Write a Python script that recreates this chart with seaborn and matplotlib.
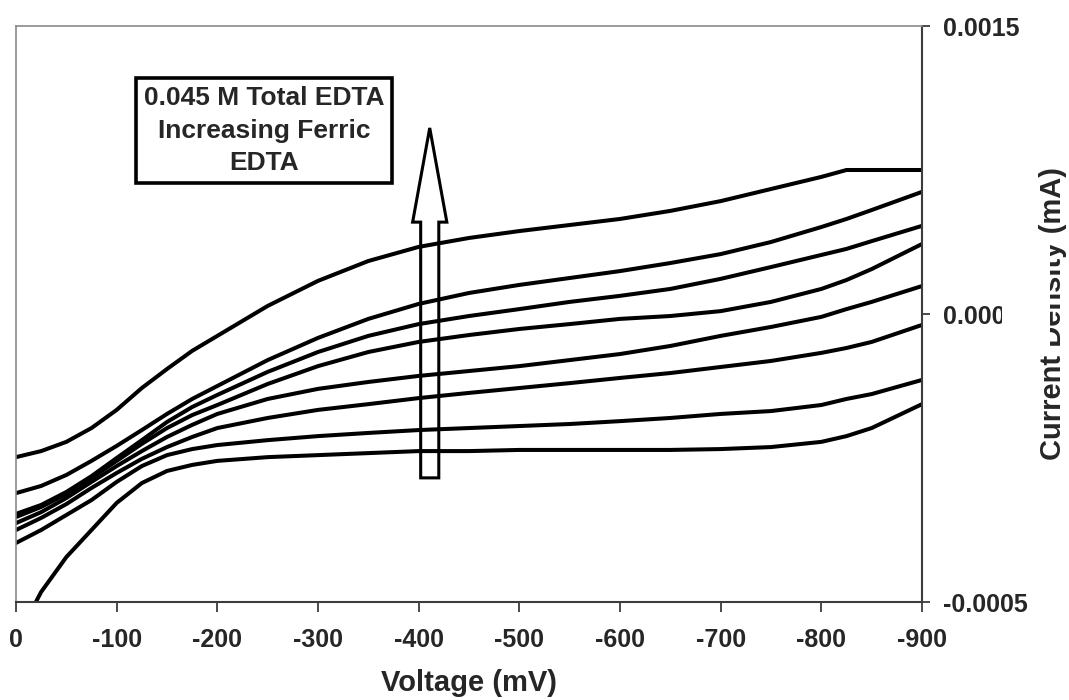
import matplotlib
matplotlib.use("Agg")
import matplotlib.pyplot as plt
from matplotlib.patches import FancyArrow, Rectangle
import pandas as pd
import seaborn as sns

# Electrode potential (mV)
voltage = [0, -25, -50, -75, -100, -125, -150, -175, -200, -250, -300, -350,
           -400, -450, -500, -550, -600, -650, -700, -750, -800, -825, -850, -900]

# Current density, in units of 1e-4 mA, lowest to highest ferric EDTA fraction
ferric_1 = [-6.32, -4.65, -3.44, -2.50, -1.56, -0.87, -0.45, -0.24, -0.10, 0.03, 0.10, 0.17,
            0.24, 0.24, 0.28, 0.28, 0.28, 0.28, 0.31, 0.38, 0.56, 0.76, 1.04, 1.87]
ferric_2 = [-2.95, -2.50, -1.98, -1.46, -0.83, -0.28, 0.10, 0.31, 0.45, 0.62, 0.76, 0.87,
            0.97, 1.04, 1.11, 1.18, 1.28, 1.39, 1.53, 1.63, 1.84, 2.05, 2.22, 2.71]
ferric_3 = [-2.50, -2.08, -1.60, -1.04, -0.52, -0.03, 0.38, 0.73, 1.04, 1.39, 1.67, 1.87,
            2.08, 2.26, 2.43, 2.60, 2.78, 2.95, 3.16, 3.37, 3.65, 3.82, 4.03, 4.62]
ferric_4 = [-2.26, -1.88, -1.39, -0.83, -0.28, 0.24, 0.73, 1.15, 1.53, 2.05, 2.40, 2.64,
            2.85, 3.02, 3.19, 3.40, 3.61, 3.89, 4.24, 4.55, 4.90, 5.17, 5.42, 5.97]
ferric_5 = [-2.05, -1.70, -1.25, -0.69, -0.10, 0.49, 1.04, 1.49, 1.84, 2.57, 3.19, 3.68,
            4.03, 4.27, 4.48, 4.65, 4.83, 4.93, 5.10, 5.42, 5.87, 6.18, 6.56, 7.43]
ferric_6 = [-1.94, -1.63, -1.18, -0.63, 0.00, 0.62, 1.25, 1.77, 2.19, 2.99, 3.68, 4.24,
            4.65, 4.93, 5.17, 5.42, 5.63, 5.87, 6.22, 6.63, 7.05, 7.26, 7.53, 8.06]
ferric_7 = [-1.22, -0.97, -0.59, -0.10, 0.42, 0.97, 1.53, 2.05, 2.50, 3.40, 4.17, 4.83,
            5.35, 5.73, 6.01, 6.25, 6.49, 6.77, 7.08, 7.50, 8.02, 8.30, 8.61, 9.24]
ferric_8 = [0.03, 0.24, 0.56, 1.04, 1.67, 2.43, 3.09, 3.72, 4.24, 5.28, 6.15, 6.84,
            7.33, 7.64, 7.88, 8.09, 8.30, 8.58, 8.92, 9.34, 9.76, 10.0, 10.0, 10.0]

series = {"1": ferric_1, "2": ferric_2, "3": ferric_3, "4": ferric_4,
          "5": ferric_5, "6": ferric_6, "7": ferric_7, "8": ferric_8}

y_ticks = [-0.0005, 0.0005, 0.0015]
y_tick_labels = ["-0.0005", "0.0005", "0.0015"]
x_ticks = [0, -100, -200, -300, -400, -500, -600, -700, -800, -900]
x_tick_labels = [str(v) for v in x_ticks]
note_text = "0.045 M Total EDTA\nIncreasing Ferric\nEDTA"

rows = []
for name, values in series.items():
    for v, c in zip(voltage, values):
        rows.append({"voltage": v, "current": c * 1e-4, "series": name})
df = pd.DataFrame(rows)

sns.set_theme(style="white")
plt.rcParams["font.family"] = ["Liberation Sans", "DejaVu Sans"]
plt.rcParams["font.weight"] = "bold"

W, H = 1069, 700
fig = plt.figure(figsize=(W / 100, H / 100), dpi=100)
ax = fig.add_axes([16 / W, (H - 602) / H, 906 / W, 576 / H])

sns.lineplot(data=df, x="voltage", y="current", hue="series",
             palette=["black"] * len(series), estimator=None, sort=False,
             legend=False, linewidth=2.9, ax=ax)
for line in ax.get_lines():
    line.set_solid_capstyle("round")
    line.set_solid_joinstyle("round")

ax.set_xlim(0, -900)
ax.set_ylim(-0.0005, 0.0015)

ax.set_xticks(x_ticks)
ax.set_xticklabels(x_tick_labels, fontsize=18, fontweight="bold")
ax.yaxis.tick_right()
ax.yaxis.set_label_position("right")
ax.set_yticks(y_ticks)
ax.set_yticklabels(y_tick_labels, fontsize=18, fontweight="bold")

dark = "#3c3c3c"
ax.tick_params(axis="x", direction="out", length=7, width=1.3, color=dark,
               pad=12, bottom=True)
ax.tick_params(axis="y", direction="out", length=6, width=1.3, color=dark,
               pad=9, right=True, left=False)

for side in ("left", "top"):
    ax.spines[side].set_color("#8a8a8a")
    ax.spines[side].set_linewidth(1.2)
for side in ("bottom", "right"):
    ax.spines[side].set_color(dark)
    ax.spines[side].set_linewidth(1.5)

ax.set_xlabel("Voltage (mV)", fontsize=21, fontweight="bold")
ax.xaxis.label.set_va("center")
ax.xaxis.set_label_coords(0.5, (602 - 683) / 576)
ax.set_ylabel("Current Density (mA)", fontsize=21, fontweight="bold", rotation=90)
ax.yaxis.label.set_va("center")
ax.yaxis.set_label_coords((1053 - 16) / 906, 0.5)

ax.text(0.274, 0.818, note_text, transform=ax.transAxes, ha="center", va="center",
        multialignment="center", fontsize=19, fontweight="bold", linespacing=1.45,
        bbox=dict(boxstyle="square,pad=0.3", facecolor="white", edgecolor="black",
                  linewidth=2.6), zorder=5)

ax.add_patch(FancyArrow(-411, -0.000069, 0, 0.001215, width=18, head_width=34,
                        head_length=0.000327, length_includes_head=True,
                        fill=False, edgecolor="black", linewidth=2.2, zorder=4))

# blank patch over part of the right-hand labels
fig.add_artist(Rectangle((1002 / W, (H - 352) / H), 48 / W, 117 / H,
                         transform=fig.transFigure, facecolor="white",
                         edgecolor="none", zorder=10))

fig.savefig("out.png", dpi=100, facecolor="white")
